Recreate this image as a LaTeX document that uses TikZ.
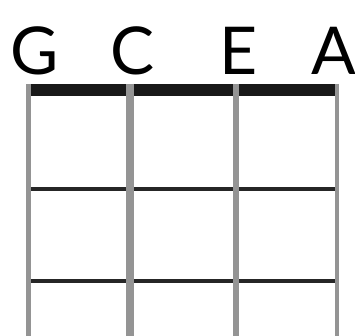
\documentclass[tikz,border=0pt]{standalone}
\usepackage{fontspec}
\setmainfont{Lato}
\usetikzlibrary{positioning}

\begin{document}
\begin{tikzpicture}[
    x=1pt, y=1pt,
    note/.style={font=\fontsize{66}{66}\selectfont, anchor=base, inner sep=0pt},
    nutbar/.style={line width=12pt, draw=black!90},
    fretbar/.style={line width=4pt, draw=black!85},
    wire/.style={draw=black!42}
]
\useasboundingbox (0,0) rectangle (355,336);

% string names
\node[note] (nG) at (35,261) {G};
\node[note] (nC) at (133,261) {C};
\node[note] (nE) at (239,261) {E};
\node[note] (nA) at (334,261) {A};

% string ends
\coordinate (gtop) at (28.5,252);
\coordinate (ctop) at (129.5,252);
\coordinate (etop) at (235.5,252);
\coordinate (atop) at (337,252);
\coordinate (gbot) at (28.5,0);
\coordinate (cbot) at (129.5,0);
\coordinate (ebot) at (235.5,0);
\coordinate (abot) at (337,0);

% nut and frets
\draw[nutbar] ([yshift=-6pt]gtop) -- ([yshift=-6pt]atop);
\foreach \fy in {105,197} {
    \draw[fretbar] ([yshift=-\fy pt]gtop) -- ([yshift=-\fy pt]atop);
}

% strings
\draw[wire, line width=5pt] (gtop) -- (gbot);
\draw[wire, line width=8pt] (ctop) -- (cbot);
\draw[wire, line width=6pt] (etop) -- (ebot);
\draw[wire, line width=4pt] (atop) -- (abot);

\end{tikzpicture}
\end{document}
